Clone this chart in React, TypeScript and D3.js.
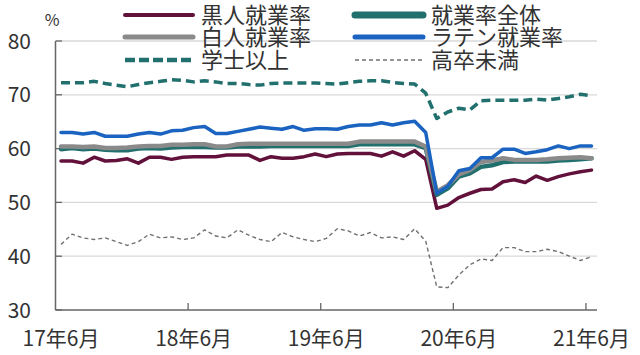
import React from "react";
import * as d3 from "d3";

const months = (
  "2017-06,2017-07,2017-08,2017-09,2017-10,2017-11,2017-12," +
  "2018-01,2018-02,2018-03,2018-04,2018-05,2018-06,2018-07,2018-08,2018-09,2018-10,2018-11,2018-12," +
  "2019-01,2019-02,2019-03,2019-04,2019-05,2019-06,2019-07,2019-08,2019-09,2019-10,2019-11,2019-12," +
  "2020-01,2020-02,2020-03,2020-04,2020-05,2020-06,2020-07,2020-08,2020-09,2020-10,2020-11,2020-12," +
  "2021-01,2021-02,2021-03,2021-04,2021-05,2021-06"
).split(",");

const tickMonths = ["2017-06", "2018-06", "2019-06", "2020-06", "2021-06"];
const tickLabels = ["17年6月", "18年6月", "19年6月", "20年6月", "21年6月"];
const yTicks = [30, 40, 50, 60, 70, 80];

const black = [57.7, 57.7, 57.3, 58.4, 57.7, 57.8, 58.1, 57.3, 58.4, 58.4, 58.0, 58.4, 58.5, 58.5, 58.5, 58.8, 58.8, 58.8, 57.8, 58.5, 58.2, 58.2, 58.5, 59.0, 58.5, 59.0, 59.1, 59.1, 59.1, 58.6, 59.4, 58.6, 59.6, 58.0, 48.9, 49.5, 50.9, 51.7, 52.4, 52.5, 53.85, 54.2, 53.7, 54.9, 54.1, 54.8, 55.3, 55.7, 56.0];
const total = [59.9, 60.1, 59.9, 60.0, 59.8, 59.7, 59.7, 60.0, 60.1, 60.0, 60.2, 60.3, 60.3, 60.3, 60.2, 60.2, 60.4, 60.4, 60.4, 60.5, 60.5, 60.5, 60.5, 60.5, 60.5, 60.5, 60.5, 60.8, 60.8, 60.8, 60.8, 60.8, 60.8, 60.1, 51.4, 52.6, 54.8, 55.4, 56.6, 56.9, 57.5, 57.6, 57.6, 57.6, 57.6, 57.8, 57.9, 58.0, 58.2];
const white = [60.4, 60.4, 60.3, 60.4, 60.1, 60.1, 60.2, 60.4, 60.5, 60.5, 60.7, 60.7, 60.8, 60.8, 60.4, 60.4, 60.8, 60.9, 60.9, 60.9, 60.9, 60.9, 60.9, 60.9, 60.9, 60.9, 60.9, 61.3, 61.3, 61.3, 61.3, 61.3, 61.3, 60.4, 52.0, 53.2, 55.2, 56.0, 57.5, 57.8, 58.2, 57.9, 57.9, 57.9, 58.0, 58.2, 58.3, 58.4, 58.2];
const latino = [63.0, 63.0, 62.7, 63.0, 62.3, 62.3, 62.3, 62.7, 63.0, 62.7, 63.3, 63.4, 63.9, 64.1, 62.8, 62.8, 63.2, 63.6, 64.0, 63.8, 63.6, 64.1, 63.4, 63.7, 63.7, 63.6, 64.1, 64.4, 64.4, 64.8, 64.4, 64.8, 65.1, 63.0, 51.7, 53.0, 55.9, 56.3, 58.3, 58.3, 59.9, 59.9, 59.1, 59.4, 59.8, 60.5, 60.0, 60.5, 60.5];
const bachelor = [72.25, 72.25, 72.25, 72.5, 72.1, 71.8, 71.5, 71.9, 72.25, 72.5, 72.8, 72.7, 72.4, 72.6, 72.4, 72.1, 72.1, 71.9, 71.8, 72.1, 72.2, 72.2, 72.2, 72.2, 72.1, 72.0, 72.25, 72.5, 72.6, 72.6, 72.3, 72.1, 72.0, 70.3, 65.6, 66.8, 67.5, 67.2, 68.9, 69.0, 69.0, 69.0, 69.0, 69.2, 69.0, 69.3, 69.65, 70.1, 69.8];
const noHighSchool = [42.2, 44.1, 43.4, 43.1, 43.4, 42.7, 42.0, 42.7, 44.1, 43.4, 43.6, 43.1, 43.4, 44.9, 43.75, 43.4, 44.9, 43.9, 43.1, 42.7, 44.4, 43.6, 43.1, 42.7, 43.3, 45.1, 44.7, 43.75, 44.4, 43.4, 43.6, 43.1, 45.1, 42.8, 34.3, 34.15, 36.5, 38.4, 39.5, 39.2, 41.6, 41.6, 40.85, 40.85, 41.3, 40.85, 40.0, 39.2, 39.9];

type S = { name: string; values: number[]; color: string; width: number; dash?: string };

const series: S[] = [
  { name: "黒人就業率", values: black, color: "#62113a", width: 3.5 },
  { name: "就業率全体", values: total, color: "#21706e", width: 4.5 },
  { name: "白人就業率", values: white, color: "#8a8a8a", width: 4.5 },
  { name: "ラテン就業率", values: latino, color: "#1a63c0", width: 3.5 },
  { name: "学士以上", values: bachelor, color: "#21706e", width: 3.5, dash: "9,5" },
  { name: "高卒未満", values: noHighSchool, color: "#707070", width: 1.4, dash: "4,3" },
];

const legendOrder = [
  { s: 0, col: 0, row: 0, w: 4 },
  { s: 2, col: 0, row: 1, w: 5 },
  { s: 4, col: 0, row: 2, w: 4.5 },
  { s: 1, col: 1, row: 0, w: 7 },
  { s: 3, col: 1, row: 1, w: 5 },
  { s: 5, col: 1, row: 2, w: 1.4 },
];

const FONT = "'Noto Sans CJK JP', 'Noto Sans', sans-serif";

export default function App() {
  const W = 640, H = 355;
  const x = d3.scaleBand<string>().domain(months).range([55.5, 597]);
  const y = d3.scaleLinear().domain([30, 80]).range([310, 41]);
  const cx = (m: string) => (x(m) as number) + x.bandwidth() / 2;
  const line = (vals: number[]) =>
    d3.line<number>().x((_, i) => cx(months[i])).y((v) => y(v)).curve(d3.curveLinear)(vals) as string;

  const legendColX = [125, 355];
  const legendRowY = [15, 37, 60];
  const lineLen = 68;

  return (
    <svg width={W} height={H} style={{ position: "absolute", left: 0, top: 0, background: "#fff" }} fontFamily={FONT}>
      {yTicks.filter((t) => t > 30).map((t) => (
        <line key={t} x1={56} x2={597} y1={y(t)} y2={y(t)} stroke="#d9d9d9" strokeWidth={1.3} />
      ))}
      {yTicks.map((t) => (
        <g key={"yt" + t}>
          <line x1={55.5} x2={62} y1={y(t)} y2={y(t)} stroke="#666" strokeWidth={1.3} />
          <text x={31} y={y(t)} dy="0.36em" textAnchor="end" fontSize={21} fill="#333">{t}</text>
        </g>
      ))}
      <text x={52} y={20} dy="0.36em" textAnchor="middle" fontSize={16} fill="#333">%</text>
      <line x1={55.5} x2={55.5} y1={y(80)} y2={310} stroke="#666" strokeWidth={1.5} />
      <line x1={55.5} x2={597} y1={310} y2={310} stroke="#666" strokeWidth={1.5} />
      {tickMonths.map((m, i) => (
        <g key={m}>
          {i > 0 && <line x1={x(m) as number} x2={x(m) as number} y1={310} y2={303} stroke="#666" strokeWidth={1.3} />}
          <text x={cx(m)} y={338} dy="0.36em" textAnchor="middle" fontSize={21} fill="#333">{tickLabels[i]}</text>
        </g>
      ))}
      {series.map((s) => (
        <path key={s.name} d={line(s.values)} fill="none" stroke={s.color} strokeWidth={s.width}
          strokeDasharray={s.dash} strokeLinejoin="round" strokeLinecap={s.dash ? "butt" : "round"} />
      ))}
      {legendOrder.map((l) => {
        const s = series[l.s];
        const lx = legendColX[l.col];
        const ly = legendRowY[l.row];
        return (
          <g key={"lg" + s.name}>
            <line x1={lx} x2={lx + lineLen} y1={ly} y2={ly} stroke={s.color} strokeWidth={l.w}
              strokeDasharray={s.dash ? (l.s === 4 ? "10,4" : "4,3") : undefined}
              strokeLinecap={s.dash ? "butt" : "round"} />
            <text x={lx + lineLen + 8} y={ly} dy="0.36em" fontSize={22} fill="#333">{s.name}</text>
          </g>
        );
      })}
    </svg>
  );
}
